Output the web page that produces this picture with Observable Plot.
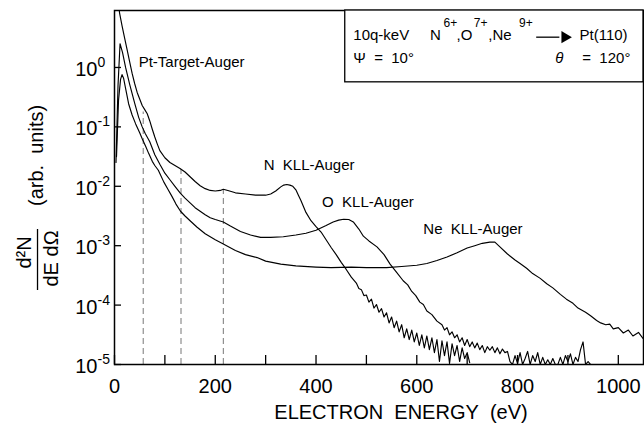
<!DOCTYPE html>
<html><head><meta charset="utf-8">
<script src="https://cdn.jsdelivr.net/npm/d3@7"></script>
<script src="https://cdn.jsdelivr.net/npm/@observablehq/plot@0.6"></script>
<style>body{margin:0;background:#fff}</style>
</head><body><div id="chart"></div>
<script>
// ---- data: [electron energy (eV), log10 of d2N/dE dOmega (arb. units)] ----
const nitrogen = [[6,1.25],[10,0.92],[15,0.7],[20,0.5],[25,0.3],[30,0.1],[35,-0.1],[40,-0.27],[45,-0.42],[50,-0.53],[55,-0.64],[60,-0.71],[65,-0.78],[70,-0.9],[75,-1.04],[80,-1.17],[85,-1.29],[90,-1.4],[100,-1.52],[110,-1.6],[120,-1.65],[130,-1.7],[140,-1.76],[150,-1.84],[160,-1.92],[170,-1.99],[180,-2.04],[190,-2.07],[200,-2.08],[210,-2.07],[216,-2.05],[225,-2.07],[240,-2.11],[260,-2.13],[280,-2.15],[300,-2.15],[310,-2.13],[320,-2.08],[330,-2.01],[336,-1.98],[342,-1.97],[348,-1.98],[354,-2.0],[360,-2.06],[365,-2.15],[370,-2.24],[375,-2.34],[380,-2.44],[390,-2.58],[400,-2.68],[410,-2.77],[420,-2.9],[430,-3.03],[440,-3.15],[450,-3.28],[460,-3.4],[470,-3.53],[475,-3.58],[480,-3.63],[485,-3.72],[490,-3.74],[495,-3.84],[500,-3.83],[505,-3.95],[510,-3.9],[515,-4.05],[520,-3.99],[525,-4.12],[530,-4.06],[535,-4.2],[540,-4.13],[545,-4.3],[550,-4.2],[555,-4.38],[560,-4.27],[565,-4.45],[570,-4.33],[575,-4.55],[580,-4.4],[585,-4.58],[590,-4.42],[595,-4.62],[600,-4.47],[605,-4.68],[610,-4.5],[615,-4.72],[620,-4.52],[625,-4.75],[630,-4.55],[635,-4.8],[640,-4.58],[645,-4.95],[650,-4.6],[655,-4.85],[660,-4.62],[665,-4.98],[670,-4.65],[675,-4.85],[680,-4.68],[685,-4.95],[690,-4.72],[695,-4.9],[700,-4.8],[705,-4.97]];

const oxygen = [[3,-1.6],[7,-0.3],[11,0.4],[16,0.25],[22,0.0],[30,-0.28],[35,-0.44],[40,-0.6],[48,-0.84],[55,-1.0],[61,-1.11],[70,-1.25],[80,-1.47],[90,-1.63],[100,-1.78],[110,-1.89],[120,-2.0],[131,-2.12],[140,-2.2],[150,-2.28],[160,-2.36],[170,-2.42],[180,-2.48],[190,-2.53],[200,-2.56],[216,-2.6],[230,-2.67],[250,-2.76],[270,-2.82],[290,-2.86],[310,-2.86],[335,-2.85],[360,-2.82],[380,-2.79],[400,-2.74],[420,-2.66],[434,-2.6],[445,-2.57],[455,-2.555],[465,-2.56],[474,-2.6],[485,-2.72],[494,-2.84],[505,-2.92],[521,-3.02],[535,-3.15],[547,-3.31],[560,-3.45],[573,-3.59],[582,-3.66],[590,-3.77],[598,-3.84],[606,-3.95],[613,-3.99],[620,-4.1],[630,-4.16],[640,-4.27],[650,-4.33],[655,-4.42],[660,-4.38],[665,-4.5],[670,-4.45],[675,-4.55],[680,-4.5],[685,-4.62],[690,-4.55],[695,-4.68],[700,-4.58],[705,-4.7],[710,-4.62],[715,-4.72],[720,-4.64],[725,-4.75],[730,-4.68],[735,-4.8],[740,-4.7],[745,-4.76],[750,-4.7],[755,-4.8],[760,-4.72],[765,-4.82],[770,-4.74],[775,-4.8],[780,-4.78],[785,-4.95],[790,-5.0],[795,-4.85],[800,-4.98],[805,-4.8],[810,-5.0],[815,-4.9],[820,-4.78],[825,-5.0],[830,-4.85],[835,-4.95],[840,-4.8],[845,-5.0],[850,-4.88],[855,-5.0],[860,-4.92],[865,-5.0],[870,-4.9],[875,-5.0],[880,-5.0],[885,-4.88],[890,-5.0],[895,-4.85],[900,-4.95],[905,-4.82],[910,-5.0],[915,-4.88],[920,-4.95],[925,-4.75],[930,-4.62],[935,-5.0],[940,-4.95],[945,-5.0]];

const neon = [[4,-1.5],[8,-0.55],[12,-0.2],[15,-0.12],[18,-0.18],[22,-0.35],[28,-0.61],[35,-0.8],[42,-0.95],[50,-1.1],[55,-1.2],[62,-1.33],[68,-1.45],[75,-1.58],[80,-1.65],[87,-1.73],[98,-1.93],[106,-2.05],[114,-2.17],[122,-2.3],[131,-2.42],[140,-2.5],[150,-2.58],[164,-2.69],[180,-2.8],[200,-2.9],[216,-2.97],[240,-3.08],[260,-3.15],[283,-3.2],[300,-3.26],[330,-3.31],[360,-3.34],[400,-3.36],[430,-3.37],[470,-3.36],[500,-3.37],[540,-3.37],[570,-3.35],[600,-3.33],[620,-3.3],[640,-3.25],[660,-3.19],[680,-3.12],[700,-3.04],[715,-3.0],[730,-2.96],[745,-2.94],[755,-2.94],[765,-3.02],[780,-3.14],[795,-3.24],[805,-3.3],[818,-3.38],[830,-3.47],[845,-3.55],[858,-3.64],[870,-3.71],[885,-3.82],[897,-3.9],[910,-3.97],[920,-4.05],[935,-4.12],[945,-4.18],[957,-4.26],[965,-4.3],[975,-4.33],[983,-4.32],[990,-4.4],[1000,-4.38],[1010,-4.47],[1020,-4.42],[1029,-4.52],[1040,-4.46],[1049,-4.56]];

const yTickExponents = [0, -1, -2, -3, -4, -5];
const xTickLabels = [0, 200, 400, 600, 800, 1000];
const xTickMarks = [0, 100, 200, 300, 400, 500, 600, 700, 800, 900, 1000];
const markerEnergies = [57, 132, 216];
const markerTopLog = [-0.75, -1.72, -2.06];
const peakLabels = ["Pt-Target-Auger", "N\u00a0\u00a0KLL-Auger", "O\u00a0\u00a0KLL-Auger", "Ne\u00a0\u00a0KLL-Auger"];
const yTitleParts = ["(arb.\u00a0\u00a0units)", "d\u00b2N", "dE\u00a0d\u03a9"];

// ---- layout / annotation placement (data coordinates) ----
const FONT = "'Liberation Sans', Arial, Helvetica, sans-serif";
const peakLabelPos = [[48, 0], [296, -1.73], [412, -2.35], [613, -2.795]];
const yTitlePos = [[-154.8, -1.481], [-178.6, -3.114], [-125, -3.215]];
const legendItems = [
  {t: "10q-keV", x: 474, y: 0.463, s: 15},
  {t: "N", x: 626, y: 0.463, s: 15},
  {t: "6+", x: 653, y: 0.68, s: 12},
  {t: ",O", x: 679, y: 0.463, s: 15},
  {t: "7+", x: 713, y: 0.68, s: 12},
  {t: ",Ne", x: 742, y: 0.463, s: 15},
  {t: "9+", x: 803, y: 0.68, s: 12},
  {t: "Pt(110)", x: 923, y: 0.463, s: 15},
  {t: "\u03a8\u00a0\u00a0=\u00a0\u00a010\u00b0", x: 474, y: 0.067, s: 15}
];

const series = [["N", nitrogen], ["O", oxygen], ["Ne", neon]]
  .flatMap(([name, arr]) => arr.map(([E, l]) => ({name, E, v: 10 ** l})));

const chart = Plot.plot({
  width: 644, height: 425,
  marginLeft: 114, marginTop: 10, marginRight: 1, marginBottom: 61,
  x: {domain: [0, 1050], axis: null},
  y: {type: "log", domain: [1e-5, 9.1], axis: null},
  style: {fontFamily: FONT, background: "white", color: "black"},
  marks: [
    Plot.ruleX(markerEnergies, {x: d => d, y1: 1e-5, y2: (d, i) => 10 ** markerTopLog[i],
      stroke: "#666", strokeWidth: 0.9, strokeDasharray: "6,4"}),
    Plot.line(series, {x: "E", y: "v", z: "name", stroke: "black", strokeWidth: 1.15, clip: true}),
    Plot.frame({stroke: "black", strokeWidth: 1.5}),
    Plot.tickX(xTickMarks, {x: d => d, insetTop: 345, stroke: "black", strokeWidth: 1.3}),
    Plot.tickY(yTickExponents, {y: d => 10 ** d, insetRight: 522, stroke: "black", strokeWidth: 1.3}),
    // y tick labels 10^k
    Plot.text(yTickExponents, {y: d => 10 ** d, frameAnchor: "left", text: () => "10",
      textAnchor: "end", lineAnchor: "middle", dx: -17, dy: 2, fontSize: 20}),
    Plot.text(yTickExponents, {y: d => 10 ** d, frameAnchor: "left", text: d => String(d),
      textAnchor: "start", lineAnchor: "middle", dx: -17, dy: -5, fontSize: 14}),
    // x tick labels
    Plot.text(xTickLabels, {x: d => d, frameAnchor: "bottom", text: d => String(d),
      lineAnchor: "bottom", dy: 28, fontSize: 20}),
    Plot.text(["ELECTRON\u00a0\u00a0ENERGY\u00a0\u00a0(eV)"], {frameAnchor: "bottom", text: d => d,
      lineAnchor: "bottom", dx: 22, dy: 54, fontSize: 20}),
    // y axis title (rotated)
    Plot.text(yTitleParts, {x: (d, i) => yTitlePos[i][0], y: (d, i) => 10 ** yTitlePos[i][1],
      text: d => d, rotate: -90, textAnchor: "middle", lineAnchor: "middle", fontSize: 20}),
    Plot.ruleX([-152.8], {x: d => d, y1: 10 ** -2.727, y2: 10 ** -3.754, stroke: "black", strokeWidth: 1.3}),
    // peak labels
    Plot.text(peakLabels, {x: (d, i) => peakLabelPos[i][0], y: (d, i) => 10 ** peakLabelPos[i][1],
      text: d => d, textAnchor: "start", lineAnchor: "bottom", fontSize: 15}),
    // legend box
    Plot.rect([0], {x1: () => 458, x2: () => 1050, y1: () => 10 ** -0.25, y2: () => 9.1,
      fill: "white", stroke: "black", strokeWidth: 1.3}),
    Plot.text(legendItems, {x: "x", y: d => 10 ** d.y, text: "t", fontSize: d => d.s,
      textAnchor: "start", lineAnchor: "bottom"}),
    Plot.ruleY([0], {y: () => 10 ** 0.51, x1: () => 838, x2: () => 884, stroke: "black", strokeWidth: 1.3}),
    Plot.dot([0], {x: () => 894, y: () => 10 ** 0.51, symbol: "triangle", rotate: 90, r: 4.5,
      fill: "black", stroke: "none"}),
    Plot.text(["\u03b8"], {x: () => 875, y: () => 10 ** 0.067, text: d => d, fontStyle: "italic",
      textAnchor: "start", lineAnchor: "bottom", fontSize: 15}),
    Plot.text(["=\u00a0\u00a0120\u00b0"], {x: () => 1024, y: () => 10 ** 0.067, text: d => d,
      textAnchor: "end", lineAnchor: "bottom", fontSize: 15})
  ]
});
document.getElementById("chart").appendChild(chart);
</script>
</body></html>
